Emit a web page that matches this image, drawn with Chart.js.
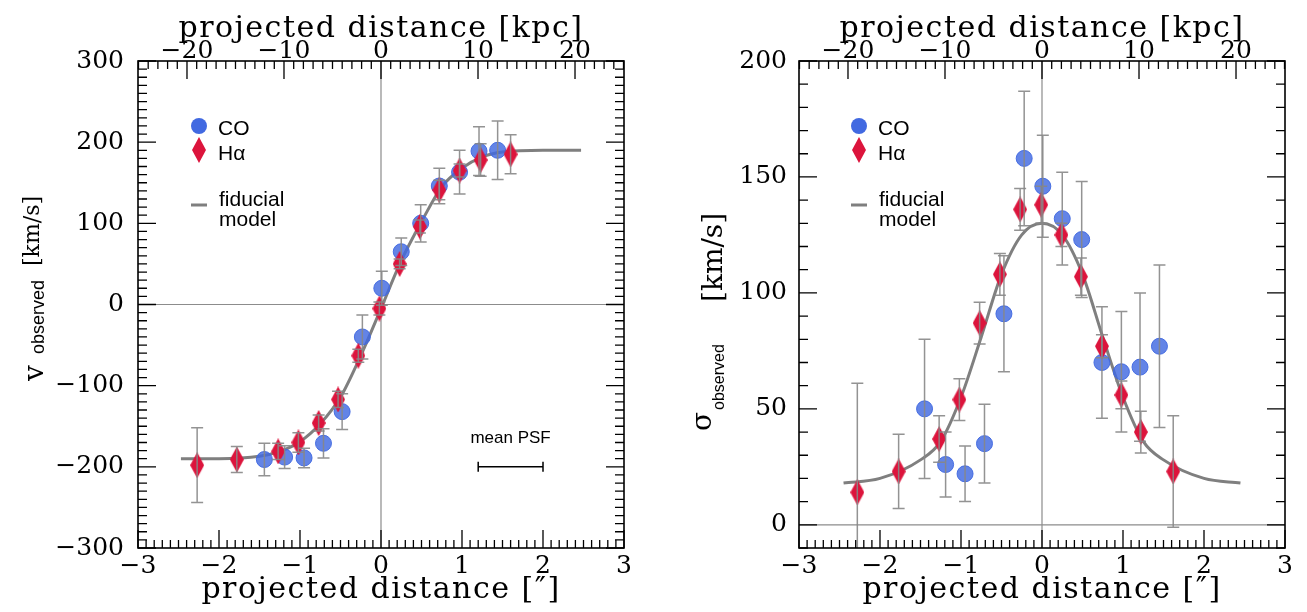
<!DOCTYPE html>
<html>
<head>
<meta charset="utf-8">
<script src="https://cdn.jsdelivr.net/npm/chart.js@4.4.1/dist/chart.umd.min.js"></script>
<style>
  html, body { margin: 0; padding: 0; background: #fff; }
  #wrap { position: relative; width: 1307px; height: 612px; overflow: hidden; }
  canvas { position: absolute; top: 0; }
  #velChart { left: 0; }
  #dispChart { left: 653px; }
</style>
</head>
<body>
<div id="wrap">
  <canvas id="velChart" width="653" height="612"></canvas>
  <canvas id="dispChart" width="654" height="612"></canvas>
</div>
<script>
// tick labels
const arcTicks = [-3, -2, -1, 0, 1, 2, 3];
const kpcTicks = [-20, -10, 0, 10, 20];
const velTicks = [-300, -200, -100, 0, 100, 200, 300];
const sigTicks = [0, 50, 100, 150, 200];
const KPC_PER_ARCSEC = 8.35;

// left panel: observed velocity
const coVelX   = [-1.44, -1.19, -0.95, -0.71, -0.48, -0.23, 0.01, 0.25, 0.49, 0.72, 0.97, 1.21, 1.44];
const coVel    = [-191, -188, -189, -171, -132, -40, 20, 65, 100, 146, 163, 189, 190];
const coVelErr = [20, 14, 12, 18, 22, 27, 21, 17, 23, 22, 27, 30, 36];

const haVelX   = [-2.27, -1.78, -1.27, -1.02, -0.77, -0.53, -0.28, -0.02, 0.23, 0.48, 0.72, 0.97, 1.23, 1.60];
const haVel    = [-198, -191, -181, -170, -146, -117, -63, -5, 50, 96, 141, 165, 178, 185];
const haVelErr = [46, 16, 10, 12, 10, 10, 8, 8, 6, 8, 12, 8, 20, 24];

const modelVelX = [-2.47, -2.0, -1.5, -1.25, -1.0, -0.75, -0.5, -0.25, 0, 0.25, 0.5, 0.75, 1.0, 1.25, 1.5, 2.0, 2.47];
const modelVel  = [-190, -190, -187, -181, -169, -147, -114, -63, -5, 54, 102, 145, 168, 182, 188, 190, 190];

// mean PSF bar
const psfFrom = 1.2, psfTo = 2.0, psfAt = -200;

// right panel: observed dispersion
const coSigX   = [-1.45, -1.19, -0.95, -0.71, -0.47, -0.22, 0.01, 0.25, 0.49, 0.74, 0.98, 1.21, 1.45];
const coSig    = [50, 26, 22, 35, 91, 158, 146, 132, 123, 70, 66, 68, 77];
const coSigErr = [30, 14, 12, 17, 25, 29, 22, 20, 25, 24, 26, 32, 35];

const haSigX   = [-2.28, -1.77, -1.27, -1.02, -0.77, -0.52, -0.27, -0.01, 0.24, 0.48, 0.74, 0.98, 1.22, 1.62];
const haSig    = [14, 23, 37, 54, 87, 108, 136, 138, 125, 107, 77, 56, 40, 23];
const haSigErr = [47, 16, 10, 9, 9, 9, 9, 8, 5, 8, 5, 6, 9, 24];

const modelSigX = [-2.45, -2.0, -1.5, -1.25, -1.0, -0.75, -0.5, -0.25, 0, 0.25, 0.5, 0.75, 1.0, 1.25, 1.5, 2.0, 2.45];
const modelSig  = [18, 20, 28, 36, 55, 81, 108, 125, 130, 125, 108, 81, 55, 36, 28, 20, 18];

const SERIF = '"DejaVu Serif", serif';
const SANS = '"Liberation Sans", Arial, sans-serif';
const CO_COLOR = 'rgba(65,105,225,0.82)';
const HA_COLOR = '#dc143c';

function diamond(w, h, color) {
  const c = document.createElement('canvas');
  c.width = w; c.height = h;
  const g = c.getContext('2d');
  g.fillStyle = color;
  g.beginPath();
  g.moveTo(w / 2, 0); g.lineTo(w, h / 2); g.lineTo(w / 2, h); g.lineTo(0, h / 2);
  g.closePath(); g.fill();
  return c;
}
const haMarker = diamond(14, 26, HA_COLOR);

const fmt = v => (v < 0 ? '\u2212' + Math.abs(v) : String(v));
const pts = (xs, ys) => xs.map((x, i) => ({ x: x, y: ys[i] }));

function errorBars(chart, xs, ys, errs) {
  const ctx = chart.ctx, sx = chart.scales.x, sy = chart.scales.y, a = chart.chartArea;
  ctx.save();
  ctx.beginPath(); ctx.rect(a.left, a.top, a.right - a.left, a.bottom - a.top); ctx.clip();
  ctx.strokeStyle = 'rgba(135,135,135,0.9)';
  ctx.lineWidth = 1.5;
  xs.forEach((x, i) => {
    const px = sx.getPixelForValue(x);
    const lo = sy.getPixelForValue(ys[i] - errs[i]);
    const hi = sy.getPixelForValue(ys[i] + errs[i]);
    ctx.beginPath();
    ctx.moveTo(px, lo); ctx.lineTo(px, hi);
    ctx.moveTo(px - 6, lo); ctx.lineTo(px + 6, lo);
    ctx.moveTo(px - 6, hi); ctx.lineTo(px + 6, hi);
    ctx.stroke();
  });
  ctx.restore();
}

function inwardTicks(chart, yMinor, yMajor) {
  const ctx = chart.ctx, a = chart.chartArea;
  const sx = chart.scales.x, sk = chart.scales.x2, sy = chart.scales.y;
  ctx.save();
  ctx.strokeStyle = '#000';
  ctx.lineWidth = 1.3;
  ctx.beginPath();
  for (let i = -30; i <= 30; i++) {
    const px = sx.getPixelForValue(i / 10);
    const len = i % 10 === 0 ? 18 : 8;
    ctx.moveTo(px, a.bottom); ctx.lineTo(px, a.bottom - len);
  }
  for (let k = -25; k <= 25; k++) {
    const px = sk.getPixelForValue(k);
    const len = k % 10 === 0 ? 18 : 8;
    ctx.moveTo(px, a.top); ctx.lineTo(px, a.top + len);
  }
  for (let v = sy.min; v <= sy.max; v += yMinor) {
    const py = sy.getPixelForValue(v);
    const len = v % yMajor === 0 ? 18 : 9;
    ctx.moveTo(a.left, py); ctx.lineTo(a.left + len, py);
    ctx.moveTo(a.right, py); ctx.lineTo(a.right - len, py);
  }
  ctx.stroke();
  ctx.lineWidth = 1.6;
  ctx.strokeRect(a.left, a.top, a.right - a.left, a.bottom - a.top);
  ctx.restore();
}

function zeroLines(chart) {
  const ctx = chart.ctx, a = chart.chartArea;
  const px = chart.scales.x.getPixelForValue(0), py = chart.scales.y.getPixelForValue(0);
  ctx.save();
  ctx.strokeStyle = '#8c8c8c';
  ctx.lineWidth = 1.2;
  ctx.beginPath();
  ctx.moveTo(px, a.top); ctx.lineTo(px, a.bottom);
  ctx.moveTo(a.left, py); ctx.lineTo(a.right, py);
  ctx.stroke();
  ctx.restore();
}

function axisTitles(chart, yParts) {
  const ctx = chart.ctx, a = chart.chartArea;
  const cx = (a.left + a.right) / 2;
  ctx.save();
  ctx.fillStyle = '#000';
  ctx.textAlign = 'center';
  ctx.textBaseline = 'alphabetic';
  ctx.font = '30px ' + SERIF;
  ctx.letterSpacing = '1.5px';
  ctx.fillText('projected distance [kpc]', cx, 37);
  ctx.fillText('projected distance [\u2033]', cx, 598);
  ctx.letterSpacing = '0px';
  ctx.textAlign = 'left';
  // rotated y title, one piece at a time (symbol, subscript, unit)
  yParts.forEach(p => {
    ctx.save();
    ctx.font = p.font;
    ctx.translate(p.x, p.y);
    ctx.rotate(-Math.PI / 2);
    ctx.fillText(p.text, 0, 0);
    ctx.restore();
  });
  ctx.restore();
}

function legend(chart, lx, tx) {
  const ctx = chart.ctx;
  ctx.save();
  ctx.fillStyle = '#4169e1';
  ctx.beginPath(); ctx.arc(lx, 126, 8, 0, Math.PI * 2); ctx.fill();
  ctx.drawImage(haMarker, lx - 7, 150 - 13);
  ctx.strokeStyle = '#7f7f7f'; ctx.lineWidth = 3;
  ctx.beginPath(); ctx.moveTo(lx - 8, 205); ctx.lineTo(lx + 8, 205); ctx.stroke();
  ctx.fillStyle = '#000';
  ctx.font = '21px ' + SANS;
  ctx.fillText('CO', tx, 135);
  ctx.fillText('H\u03b1', tx, 160);
  ctx.fillText('fiducial', tx + 1, 206);
  ctx.fillText('model', tx + 1, 226);
  ctx.restore();
}

function makeChart(id, cfg) {
  const axisFont = { family: SERIF, size: 25 };
  const noGrid = { display: false, drawTicks: false };
  return new Chart(document.getElementById(id), {
    type: 'scatter',
    data: {
      datasets: [
        { label: 'H\u03b1', data: pts(cfg.haX, cfg.ha), pointStyle: haMarker, pointRadius: 8 },
        { label: 'CO', data: pts(cfg.coX, cfg.co), pointStyle: 'circle', pointRadius: 8,
          backgroundColor: CO_COLOR, borderColor: 'rgba(65,105,225,0.95)', borderWidth: 1 },
        { label: 'fiducial model', data: pts(cfg.modelX, cfg.model), showLine: true, pointRadius: 0,
          borderColor: '#7f7f7f', borderWidth: 3, cubicInterpolationMode: 'monotone' }
      ]
    },
    options: {
      responsive: false,
      animation: false,
      layout: { padding: 0 },
      plugins: { legend: { display: false }, tooltip: { enabled: false } },
      scales: {
        x: {
          type: 'linear', position: 'bottom', min: -3, max: 3,
          afterBuildTicks: s => { s.ticks = arcTicks.map(v => ({ value: v })); },
          afterFit: s => { s.height = 64; },
          grid: noGrid, border: { display: false },
          ticks: { font: axisFont, color: '#000', padding: 3, maxRotation: 0, autoSkip: false, callback: fmt }
        },
        x2: {
          type: 'linear', position: 'top', min: -3 * KPC_PER_ARCSEC, max: 3 * KPC_PER_ARCSEC,
          afterBuildTicks: s => { s.ticks = kpcTicks.map(v => ({ value: v })); },
          afterFit: s => { s.height = 61; },
          grid: noGrid, border: { display: false },
          ticks: { font: axisFont, color: '#000', padding: -5, maxRotation: 0, autoSkip: false, callback: fmt }
        },
        y: {
          position: 'left', min: cfg.yMin, max: cfg.yMax,
          afterBuildTicks: s => { s.ticks = cfg.yTicks.map(v => ({ value: v })); },
          afterFit: s => { s.width = cfg.leftW; },
          grid: noGrid, border: { display: false },
          ticks: { font: axisFont, color: '#000', padding: cfg.yPad, callback: fmt }
        },
        y2: {
          position: 'right', min: cfg.yMin, max: cfg.yMax,
          afterFit: s => { s.width = cfg.rightW; },
          grid: noGrid, border: { display: false },
          ticks: { display: false }
        }
      }
    },
    plugins: [{
      id: 'decor',
      beforeDatasetsDraw: c => zeroLines(c),
      afterDatasetsDraw: c => {
        errorBars(c, cfg.coX, cfg.co, cfg.coErr);
        errorBars(c, cfg.haX, cfg.ha, cfg.haErr);
      },
      afterDraw: c => {
        inwardTicks(c, 10, cfg.yMajor);
        axisTitles(c, cfg.yTitle);
        legend(c, cfg.legX, cfg.legX + 19);
        if (cfg.extra) cfg.extra(c);
      }
    }]
  });
}

makeChart('velChart', {
  coX: coVelX, co: coVel, coErr: coVelErr,
  haX: haVelX, ha: haVel, haErr: haVelErr,
  modelX: modelVelX, model: modelVel,
  yMin: -300, yMax: 300, yTicks: velTicks, yMajor: 100,
  leftW: 138, rightW: 29, yPad: 14, legX: 199,
  yTitle: [
    { text: 'v', font: '28px ' + SERIF, x: 43, y: 381 },
    { text: 'observed', font: '18px ' + SANS, x: 44, y: 354 },
    { text: '[km/s]', font: '22px ' + SERIF, x: 39, y: 266 }
  ],
  extra: c => {
    const ctx = c.ctx, sx = c.scales.x, sy = c.scales.y;
    const x1 = sx.getPixelForValue(psfFrom), x2 = sx.getPixelForValue(psfTo), py = sy.getPixelForValue(psfAt);
    ctx.save();
    ctx.strokeStyle = '#000'; ctx.lineWidth = 1.5;
    ctx.beginPath();
    ctx.moveTo(x1, py); ctx.lineTo(x2, py);
    ctx.moveTo(x1, py - 5); ctx.lineTo(x1, py + 5);
    ctx.moveTo(x2, py - 5); ctx.lineTo(x2, py + 5);
    ctx.stroke();
    ctx.fillStyle = '#000'; ctx.font = '17px ' + SANS; ctx.textAlign = 'center';
    ctx.fillText('mean PSF', (x1 + x2) / 2, 443);
    ctx.restore();
  }
});

makeChart('dispChart', {
  coX: coSigX, co: coSig, coErr: coSigErr,
  haX: haSigX, ha: haSig, haErr: haSigErr,
  modelX: modelSigX, model: modelSig,
  yMin: -10, yMax: 200, yTicks: sigTicks, yMajor: 50,
  leftW: 146, rightW: 22, yPad: 12, legX: 206,
  yTitle: [
    { text: '\u03c3', font: '28px ' + SERIF, x: 58, y: 431 },
    { text: 'observed', font: '16px ' + SANS, x: 71, y: 410 },
    { text: '[km/s]', font: '28px ' + SERIF, x: 69, y: 302 }
  ]
});
</script>
</body>
</html>
